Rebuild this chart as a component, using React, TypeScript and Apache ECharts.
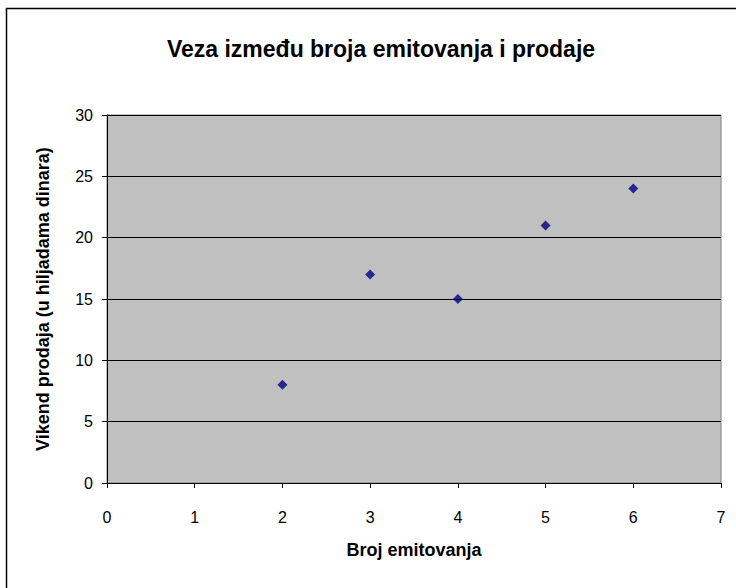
import React, { useEffect, useRef } from "react";
import * as echarts from "echarts";

const titleText = "Veza između broja emitovanja i prodaje";
const xAxisName = "Broj emitovanja";
const yAxisName = "Vikend prodaja (u hiljadama dinara)";
const xValues = [2, 3, 4, 5, 6];
const yValues = [8, 17, 15, 21, 24];

export default function App() {
  const ref = useRef<HTMLDivElement>(null);
  useEffect(() => {
    document.body.style.margin = "0";
    const chart = echarts.init(ref.current!, null, { renderer: "svg" });
    const font = "Arial, 'Liberation Sans', sans-serif";
    chart.setOption({
      animation: false,
      backgroundColor: "#ffffff",
      title: {
        text: titleText,
        left: 376,
        textAlign: "center",
        top: 32,
        textStyle: { fontFamily: font, fontSize: 23, fontWeight: "bold", color: "#000" },
      },
      graphic: [
        {
          type: "rect",
          shape: { x: 6.5, y: 8.5, width: 800, height: 700 },
          style: { fill: "none", stroke: "#000", lineWidth: 1.5 },
          silent: true,
          z: -1,
        },
      ],
      grid: {
        left: 107,
        right: 15,
        top: 115,
        bottom: 105,
        show: true,
        backgroundColor: "#c0c0c0",
        borderColor: "#808080",
        borderWidth: 1,
      },
      xAxis: {
        type: "value",
        min: 0,
        max: 7,
        interval: 1,
        name: xAxisName,
        nameLocation: "middle",
        nameGap: 58,
        nameTextStyle: { fontFamily: font, fontSize: 18, fontWeight: "bold", color: "#000" },
        axisLine: { show: true, lineStyle: { color: "#000", width: 1 } },
        axisTick: { show: true, length: 5, lineStyle: { color: "#000" } },
        axisLabel: { margin: 26, fontFamily: font, fontSize: 16, color: "#000" },
        splitLine: { show: false },
      },
      yAxis: {
        type: "value",
        min: 0,
        max: 30,
        interval: 5,
        name: yAxisName,
        nameLocation: "middle",
        nameGap: 55,
        nameTextStyle: { fontFamily: font, fontSize: 18, fontWeight: "bold", color: "#000" },
        axisLine: { show: true, lineStyle: { color: "#000", width: 1 } },
        axisTick: { show: true, length: 5, lineStyle: { color: "#000" } },
        axisLabel: { margin: 14, fontFamily: font, fontSize: 16, color: "#000" },
        splitLine: { show: true, lineStyle: { color: "#000", width: 1 } },
      },
      series: [
        {
          type: "scatter",
          symbol: "diamond",
          symbolSize: 10,
          itemStyle: { color: "#000080" },
          data: xValues.map((x, i) => [x, yValues[i]]),
        },
      ],
    });
    return () => chart.dispose();
  }, []);
  return <div ref={ref} style={{ width: 736, height: 588 }} />;
}
